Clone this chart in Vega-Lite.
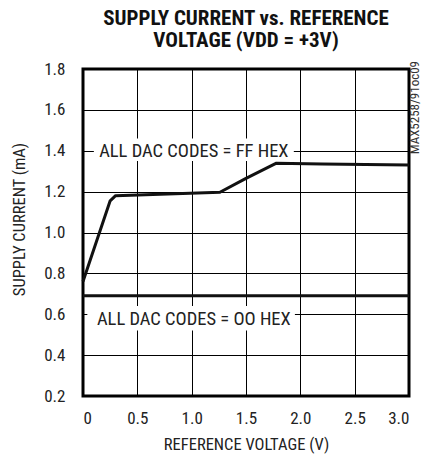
{
  "$schema": "https://vega.github.io/schema/vega-lite/v6.json",
  "width": 326,
  "height": 327,
  "autosize": {"type": "none"},
  "padding": {"left": 83, "top": 69, "right": 21, "bottom": 58},
  "background": "white",
  "config": {
    "font": "'Roboto Condensed', 'DejaVu Sans Condensed', 'Liberation Sans', sans-serif",
    "view": {"stroke": "black", "strokeWidth": 3},
    "axis": {
      "grid": true, "gridColor": "black", "gridWidth": 1, "gridOpacity": 1,
      "domain": false, "ticks": false,
      "labelFont": "'Roboto Condensed', 'DejaVu Sans Condensed', 'Liberation Sans', sans-serif", "labelFontSize": 17, "labelColor": "#222",
      "titleFont": "'Roboto Condensed', 'DejaVu Sans Condensed', 'Liberation Sans', sans-serif", "titleFontSize": 16.5, "titleFontWeight": "normal", "titleColor": "#222"
    }
  },
  "title": {
    "text": ["SUPPLY CURRENT vs. REFERENCE", "VOLTAGE (VDD = +3V)"],
    "font": "'Roboto Condensed', 'DejaVu Sans Condensed', 'Liberation Sans', sans-serif",
    "fontSize": 21,
    "fontWeight": "bold",
    "lineHeight": 22,
    "anchor": "middle",
    "offset": 9,
    "color": "#111"
  },
  "datasets": {
    "ff": [
      {"v": 0.0, "i": 0.76},
      {"v": 0.25, "i": 1.155},
      {"v": 0.3, "i": 1.18},
      {"v": 1.26, "i": 1.197},
      {"v": 1.5, "i": 1.265},
      {"v": 1.78, "i": 1.339},
      {"v": 2.2, "i": 1.335},
      {"v": 2.6, "i": 1.333},
      {"v": 3.0, "i": 1.33}
    ],
    "zero": [
      {"v": 0.0, "i": 0.69},
      {"v": 3.0, "i": 0.69}
    ],
    "labels": [
      {"label": "ALL DAC CODES = FF HEX", "v": 1.02, "i": 1.4, "x1": 0.1, "x2": 1.94, "y1": 1.35, "y2": 1.46},
      {"label": "ALL DAC CODES = OO HEX", "v": 1.02, "i": 0.575, "x1": 0.04, "x2": 1.95, "y1": 0.52, "y2": 0.64}
    ]
  },
  "layer": [
    {
      "data": {"name": "labels"},
      "mark": {"type": "rect", "color": "white"},
      "encoding": {
        "x": {"field": "x1", "type": "quantitative", "scale": {"domain": [0, 3]}},
        "x2": {"field": "x2"},
        "y": {"field": "y1", "type": "quantitative", "scale": {"domain": [0.2, 1.8]}},
        "y2": {"field": "y2"}
      }
    },
    {
      "data": {"name": "zero"},
      "mark": {"type": "line", "color": "#111", "strokeWidth": 3},
      "encoding": {
        "x": {"field": "v", "type": "quantitative"},
        "y": {"field": "i", "type": "quantitative"}
      }
    },
    {
      "data": {"name": "ff"},
      "mark": {"type": "line", "color": "#111", "strokeWidth": 3, "strokeJoin": "round"},
      "encoding": {
        "x": {
          "field": "v", "type": "quantitative",
          "scale": {"domain": [0, 3], "nice": false, "zero": false},
          "axis": {"values": [0, 0.5, 1, 1.5, 2, 2.5, 3], "labelExpr": "datum.value == 0 ? '0' : format(datum.value, '.1f')", "title": "REFERENCE VOLTAGE (V)", "labelPadding": 14, "titlePadding": 10}
        },
        "y": {
          "field": "i", "type": "quantitative",
          "scale": {"domain": [0.2, 1.8], "nice": false, "zero": false},
          "axis": {"values": [0.2, 0.4, 0.6, 0.8, 1.0, 1.2, 1.4, 1.6, 1.8], "format": ".1f", "title": "SUPPLY CURRENT (mA)", "labelPadding": 18, "titlePadding": 16, "titleY": 150}
        }
      }
    },
    {
      "data": {"name": "labels"},
      "mark": {"type": "text", "fontSize": 18.5, "color": "#222"},
      "encoding": {
        "x": {"field": "v", "type": "quantitative"},
        "y": {"field": "i", "type": "quantitative"},
        "text": {"field": "label"}
      }
    },
    {
      "data": {"values": [{"t": "MAX5258/91oc09"}]},
      "mark": {"type": "text", "angle": 270, "fontSize": 13, "color": "#333", "align": "right", "baseline": "top", "dx": 8, "dy": 0},
      "encoding": {
        "x": {"datum": 3.0, "type": "quantitative"},
        "y": {"datum": 1.8, "type": "quantitative"},
        "text": {"field": "t"}
      }
    }
  ]
}
